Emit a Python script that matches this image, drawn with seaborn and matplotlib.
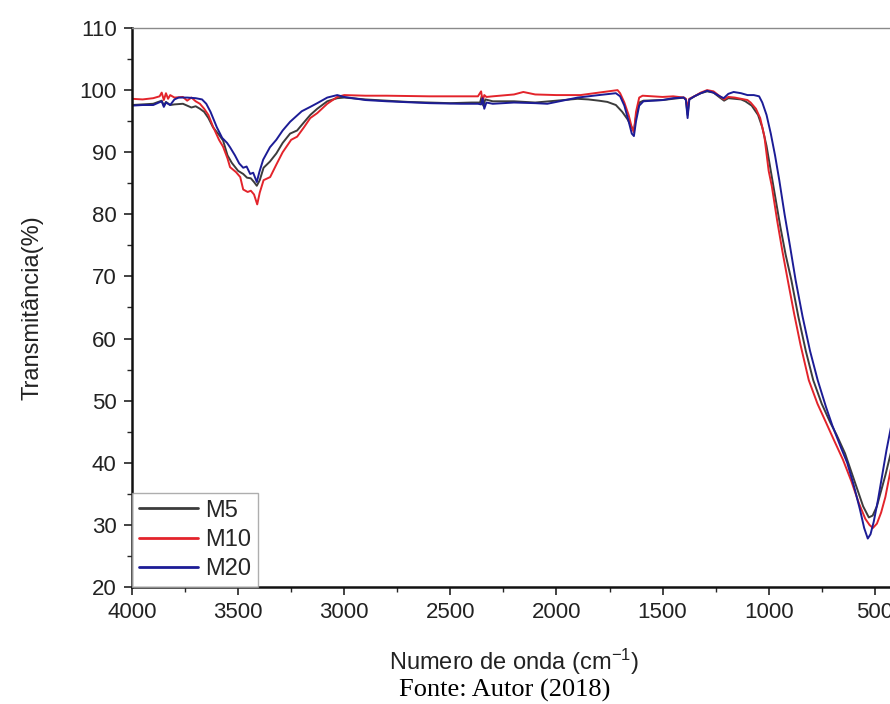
import numpy as np
import pandas as pd
import matplotlib
matplotlib.use("Agg")
import matplotlib.pyplot as plt
import seaborn as sns
from matplotlib.ticker import MultipleLocator

# ---------------- data ----------------
wn_m5 = [4000, 3950, 3900, 3860, 3850, 3840, 3820, 3800, 3760, 3720, 3700, 3680, 3660, 3640,
         3618, 3590, 3571, 3550, 3530, 3500, 3476, 3458, 3440, 3425, 3412, 3398, 3380, 3350,
         3320, 3290, 3255, 3222, 3190, 3160, 3127, 3080, 3033, 3000, 2900, 2700, 2500, 2400,
         2360, 2352, 2345, 2335, 2300, 2200, 2100, 2000, 1900, 1850, 1800, 1760, 1720, 1690,
         1665, 1645, 1635, 1625, 1610, 1590, 1500, 1450, 1400, 1390, 1382, 1374, 1350, 1320,
         1290, 1260, 1230, 1210, 1190, 1160, 1130, 1110, 1080, 1050, 1030, 1010, 990, 970,
         945, 920, 893, 860, 825, 790, 750, 710, 680, 640, 610, 580, 555, 528, 510, 490, 470,
         450, 425, 400]
t_m5 = [97.6, 97.7, 97.8, 98.3, 97.5, 98.1, 97.6, 97.7, 97.8, 97.2, 97.4, 97.0, 96.5, 95.5,
        94.0, 92.8, 91.9, 89.5, 88.3, 87.0, 86.5, 85.9, 85.8, 85.2, 84.6, 85.5, 87.5, 88.5,
        89.8, 91.5, 93.0, 93.5, 94.8, 96.0, 97.0, 98.2, 98.7, 98.8, 98.5, 98.1, 97.9, 98.0,
        98.0, 99.0, 97.5, 98.5, 98.2, 98.2, 98.0, 98.3, 98.6, 98.5, 98.3, 98.1, 97.6, 96.5,
        95.3, 94.0, 93.5, 95.8, 98.0, 98.3, 98.4, 98.6, 98.8, 98.5, 96.0, 98.5, 99.0, 99.5,
        99.8, 99.6, 98.8, 98.3, 98.7, 98.6, 98.5, 98.2, 97.5, 96.0, 94.0, 91.0, 87.0, 83.0,
        78.0, 73.5, 69.4, 63.5, 58.0, 53.3, 49.5, 46.5, 44.5, 41.5, 38.5, 35.5, 33.0, 31.2,
        31.5, 33.0, 35.5, 38.0, 41.5, 45.0]

wn_m10 = [4000, 3950, 3900, 3870, 3860, 3850, 3840, 3830, 3820, 3800, 3760, 3740, 3720, 3700,
          3680, 3660, 3640, 3618, 3590, 3571, 3550, 3538, 3510, 3490, 3476, 3455, 3440, 3425,
          3410, 3398, 3380, 3349, 3320, 3290, 3250, 3222, 3190, 3160, 3127, 3080, 3033, 3000,
          2900, 2800, 2600, 2450, 2370, 2355, 2348, 2340, 2330, 2300, 2200, 2156, 2100, 2000,
          1887, 1800, 1712, 1700, 1680, 1660, 1645, 1635, 1625, 1610, 1594, 1500, 1450, 1400,
          1390, 1382, 1374, 1350, 1320, 1290, 1260, 1230, 1210, 1190, 1160, 1130, 1100, 1085,
          1060, 1040, 1020, 1000, 985, 960, 935, 910, 880, 850, 811, 770, 730, 693, 650, 610,
          575, 545, 525, 509, 490, 470, 450, 430, 410, 400]
t_m10 = [98.6, 98.5, 98.7, 99.0, 99.6, 98.4, 99.5, 98.6, 99.2, 98.8, 98.9, 98.3, 98.8, 98.2,
         97.8, 97.0, 96.0, 94.1, 92.0, 90.9, 89.0, 87.6, 86.8, 86.0, 84.0, 83.6, 83.8, 83.2,
         81.6, 83.5, 85.5, 86.0, 88.0, 90.0, 92.0, 92.5, 94.0, 95.5, 96.3, 97.8, 98.9, 99.2,
         99.1, 99.1, 99.0, 99.0, 99.0, 99.8, 98.2, 99.2, 98.9, 99.0, 99.3, 99.7, 99.3, 99.2,
         99.2, 99.6, 100.0, 99.5, 98.0, 96.0, 94.0, 93.2, 96.5, 98.8, 99.1, 98.9, 99.0, 98.8,
         98.6, 97.0, 98.6, 99.0, 99.6, 100.0, 99.8, 99.0, 98.5, 98.9, 98.8, 98.6, 98.4, 98.0,
         97.0, 95.5, 92.5, 87.0, 84.5, 79.0, 74.0, 69.4, 64.0, 59.0, 53.3, 49.5, 46.5, 43.7,
         40.5, 37.0, 33.5, 31.0, 30.0, 29.5, 30.2, 32.0, 34.5, 38.0, 41.5, 43.0]

wn_m20 = [4000, 3950, 3900, 3860, 3850, 3840, 3820, 3800, 3780, 3740, 3700, 3670, 3650, 3630,
          3600, 3575, 3552, 3538, 3515, 3495, 3476, 3460, 3443, 3429, 3412, 3400, 3382, 3350,
          3320, 3290, 3255, 3200, 3160, 3127, 3080, 3033, 3000, 2900, 2800, 2600, 2450, 2370,
          2355, 2348, 2340, 2330, 2300, 2200, 2100, 2043, 2000, 1900, 1800, 1720, 1700, 1680,
          1660, 1645, 1635, 1625, 1610, 1590, 1500, 1450, 1400, 1390, 1382, 1374, 1350, 1320,
          1290, 1260, 1230, 1212, 1190, 1165, 1130, 1100, 1070, 1045, 1030, 1010, 990, 970,
          950, 925, 900, 873, 840, 805, 769, 730, 700, 660, 630, 600, 570, 550, 533, 520, 505,
          485, 465, 445, 425, 400]
t_m20 = [97.5, 97.6, 97.6, 98.2, 97.3, 98.0, 97.6, 98.5, 98.8, 98.8, 98.7, 98.5, 97.8, 96.5,
         94.0, 92.3, 91.5, 90.8, 89.5, 88.2, 87.5, 87.7, 86.5, 86.7, 85.2, 86.8, 88.8, 90.8,
         92.0, 93.5, 94.9, 96.6, 97.3, 97.9, 98.8, 99.2, 98.9, 98.4, 98.2, 97.9, 97.8, 97.8,
         97.7, 98.7, 97.0, 98.0, 97.8, 98.0, 97.9, 97.8, 98.1, 98.8, 99.2, 99.5, 99.0, 97.5,
         95.0, 93.0, 92.6, 95.0, 97.5, 98.2, 98.4, 98.7, 98.8, 98.4, 95.5, 98.5, 99.0, 99.5,
         99.9, 99.6, 99.0, 98.7, 99.4, 99.7, 99.5, 99.2, 99.2, 99.0, 98.0, 96.0, 93.0, 89.5,
         85.5, 80.0, 75.0, 69.4, 63.5, 58.0, 53.3, 49.0, 46.0, 42.5, 40.0, 36.5, 32.5, 29.5,
         27.8, 28.5, 30.5, 34.0, 38.0, 42.0, 45.5, 50.0]

series_names = ["M5", "M10", "M20"]
series_colors = {"M5": "#3c3c3c", "M10": "#e3242b", "M20": "#1c1c96"}

x_ticks = [4000, 3500, 3000, 2500, 2000, 1500, 1000, 500]
y_ticks = [20, 30, 40, 50, 60, 70, 80, 90, 100, 110]

# ---------------- build long table ----------------
frames = []
for name, wn, t in zip(series_names, [wn_m5, wn_m10, wn_m20], [t_m5, t_m10, t_m20]):
    frames.append(pd.DataFrame({"wn": wn, "T": t, "Amostra": name}))
df = pd.concat(frames, ignore_index=True)

# ---------------- plot ----------------
sns.set_theme(style="white")
plt.rcParams["font.family"] = ["Liberation Sans", "DejaVu Sans"]
plt.rcParams["mathtext.fontset"] = "custom"
plt.rcParams["mathtext.rm"] = "Liberation Sans"
plt.rcParams["mathtext.it"] = "Liberation Sans"

W, H = 890, 704
fig = plt.figure(figsize=(W / 100, H / 100), dpi=100)
ax = fig.add_axes([132 / W, (H - 587) / H, (896 - 132) / W, (587 - 28) / H])

sns.lineplot(data=df, x="wn", y="T", hue="Amostra", hue_order=series_names,
             palette=series_colors, sort=False, estimator=None,
             linewidth=1.4, ax=ax)

ax.set_xlim(4000, 400)
ax.set_ylim(20, 110)
ax.set_xticks(x_ticks)
ax.set_yticks(y_ticks)
ax.xaxis.set_minor_locator(MultipleLocator(250))
ax.yaxis.set_minor_locator(MultipleLocator(5))
ax.tick_params(axis="both", which="major", direction="out", length=6, width=1.2,
               labelsize=16, colors="#222222", pad=5,
               bottom=True, left=True, top=False, right=False)
ax.tick_params(axis="both", which="minor", direction="out", length=3.5, width=1.0,
               bottom=True, left=True, top=False, right=False)

for s in ["left", "bottom"]:
    ax.spines[s].set_color("#111111")
    ax.spines[s].set_linewidth(1.8)
ax.spines["top"].set_color("#8a8a8a")
ax.spines["top"].set_linewidth(1.0)
ax.spines["right"].set_visible(False)

ax.set_xlabel("Numero de onda (cm$^{-1}$)", fontsize=17, color="#222222", labelpad=17)
ax.set_ylabel("Transmitância(%)", fontsize=17, color="#222222", labelpad=26)

leg = ax.legend(loc="lower left", frameon=True, fancybox=False, fontsize=17,
                handlelength=2.5, handletextpad=0.3, borderaxespad=0.0,
                borderpad=0.3, labelspacing=0.3)
leg.set_title(None)
leg.get_frame().set_edgecolor("#9a9a9a")
leg.get_frame().set_linewidth(1.0)
for line in leg.get_lines():
    line.set_linewidth(2.0)

fig.text(505 / W, 1 - 690 / H, "Fonte: Autor (2018)", ha="center", va="center",
         fontsize=19, family=["Liberation Serif", "DejaVu Serif"], color="black")

fig.savefig("out.png", dpi=100)
